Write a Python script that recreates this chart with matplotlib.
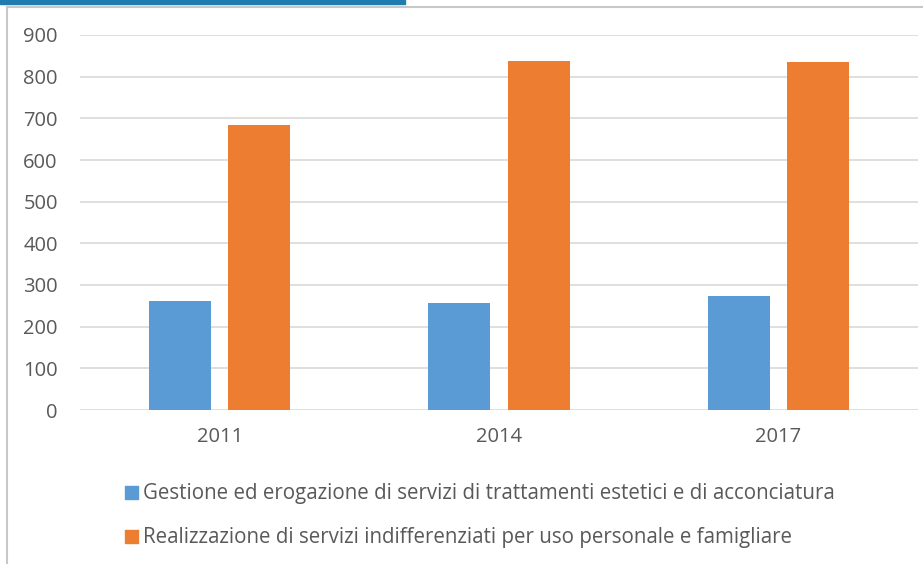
import matplotlib
matplotlib.use("Agg")
import matplotlib.pyplot as plt
import numpy as np
from matplotlib.patches import Rectangle
from matplotlib.lines import Line2D

years = ["2011", "2014", "2017"]
series_names = [
    "Gestione ed erogazione di servizi di trattamenti estetici e di acconciatura",
    "Realizzazione di servizi indifferenziati per uso personale e famigliare",
]
gestione = [262, 257, 274]
realizzazione = [684, 838, 835]
colors = ["#5b9bd5", "#ed7d31"]
TXT = "#595959"
FONT = "Open Sans"

fig = plt.figure(figsize=(9.23, 5.64), dpi=100)
ax = fig.add_axes([80 / 923, 1 - 410 / 564, 838 / 923, 375 / 564])

x = np.arange(len(years))
w = 0.222
ax.bar(x - 0.142, gestione, w, color=colors[0], zorder=3)
ax.bar(x + 0.142, realizzazione, w, color=colors[1], zorder=3)

ax.set_xlim(-0.5, 2.5)
ax.set_ylim(0, 900)
ax.set_yticks(range(0, 901, 100))
ax.set_xticks(x, years)
ax.yaxis.grid(True, color="#d9d9d9", lw=1.2, zorder=0)
for s in ax.spines.values():
    s.set_visible(False)
ax.tick_params(length=0, labelcolor=TXT, labelsize=14.5)
ax.tick_params(axis="y", pad=16)
ax.tick_params(axis="x", pad=12)
for lab in ax.get_xticklabels() + ax.get_yticklabels():
    lab.set_family(FONT)

# legend rows
for i, (name, c) in enumerate(zip(series_names, colors)):
    yy = 1 - (493 + 44 * i) / 564
    fig.patches.append(Rectangle((125 / 923, yy - 6 / 564), 13 / 923, 13 / 564,
                                 transform=fig.transFigure, color=c, figure=fig))
    fig.text(143 / 923, yy, name, color=TXT, fontsize=14.8, family=FONT, va="center")

# screenshot frame artifacts
fig.add_artist(Line2D([7 / 923, 1], [1 - 7 / 564] * 2, color="#c8c8c8", lw=1.5))
fig.add_artist(Line2D([7 / 923] * 2, [0, 1 - 7 / 564], color="#c8c8c8", lw=1.5))
fig.patches.append(Rectangle((0, 1 - 4 / 564), 405 / 923, 4 / 564,
                             transform=fig.transFigure, color="#1f7bb0", figure=fig))

fig.savefig("out.png", dpi=100)
